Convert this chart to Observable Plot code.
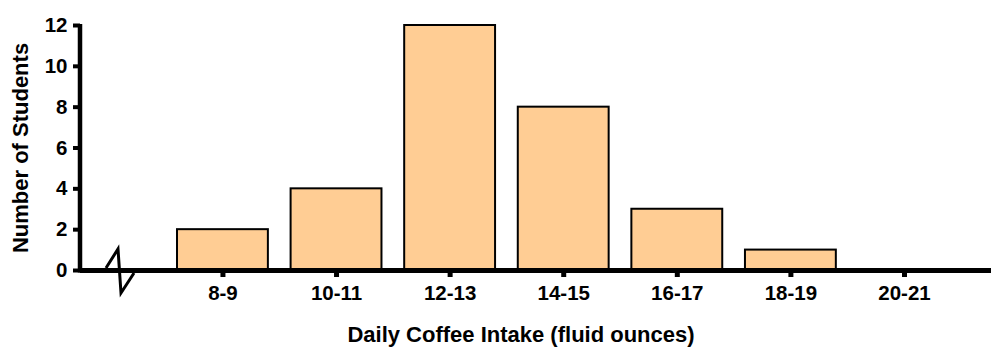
<!DOCTYPE html>
<html><head><meta charset="utf-8">
<script src="https://cdn.jsdelivr.net/npm/d3@7"></script>
<script src="https://cdn.jsdelivr.net/npm/@observablehq/plot@0.6"></script>
<style>
body{margin:0;background:#fff;}
</style></head>
<body><div id="chart"></div>
<script>
const categories = ["8-9","10-11","12-13","14-15","16-17","18-19","20-21"];
const counts = [2,4,12,8,3,1,0];
const yTicks = [0,2,4,6,8,10,12];
const xTitle = "Daily Coffee Intake (fluid ounces)";
const yTitle = "Number of Students";

const data = categories.map((c,i)=>({range:c, n:counts[i]}));
const W = 1000, H = 356;
const chart = Plot.plot({
  width: W, height: H,
  marginLeft: 80, marginRight: 9, marginTop: 25, marginBottom: 86,
  style: {fontFamily: "'Liberation Sans', Arial, sans-serif", fontSize: "20px", fontWeight: "bold", color: "#000", background: "#fff"},
  x: {domain: categories, paddingInner: 0.2, paddingOuter: 0.61, align: 0.70, round: false},
  y: {domain: [0, 12]},
  marks: [
    Plot.barY(data, {x: "range", y: "n", fill: "#FFCD94", stroke: "#000", strokeWidth: 2}),
    Plot.axisY({ticks: yTicks, tickSize: 7, tickPadding: 6, strokeWidth: 4, label: null, fontSize: 20.5, fill: "#000"}),
    Plot.axisX({tickSize: 7, tickPadding: 8, strokeWidth: 5, label: null, fontSize: 20.5, fill: "#000"}),
    Plot.ruleY([0], {strokeWidth: 5, stroke: "#000"}),
    Plot.text([yTitle], {frameAnchor: "left", dx: -60, rotate: -90, textAnchor: "middle", fontSize: 22, fontWeight: "bold", fill: "#000"}),
    Plot.text([xTitle], {frameAnchor: "bottom", dx: -15, dy: 71, textAnchor: "middle", fontSize: 22, fontWeight: "bold", fill: "#000"})
  ]
});
const svg = d3.select(chart);
const ys = chart.scale("y");
const y0 = ys.apply(0), y12 = ys.apply(12);
const xl = 80;
// y axis line
svg.append("line").attr("x1", xl).attr("x2", xl).attr("y1", y0 + 2.5).attr("y2", y12 - 1)
  .attr("stroke", "#000").attr("stroke-width", 4.5);
// axis break zigzag
const bx = xl + 26;
svg.append("polyline")
  .attr("points", [[bx, y0 - 2],[bx + 12, y0 - 21],[bx + 15, y0 + 23],[bx + 28, y0 + 3]].map(p=>p.join(",")).join(" "))
  .attr("fill", "none").attr("stroke", "#000").attr("stroke-width", 3);
document.getElementById("chart").append(chart);
</script></body></html>
